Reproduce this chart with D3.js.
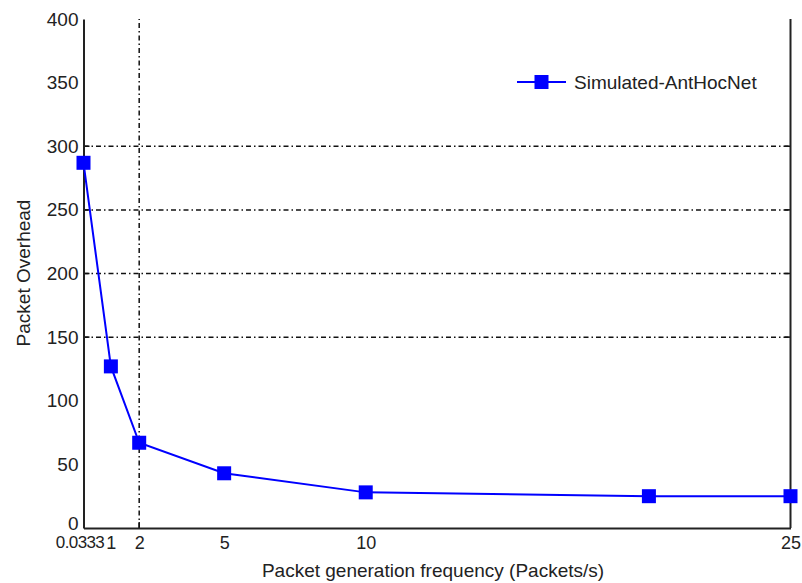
<!DOCTYPE html>
<html>
<head>
<meta charset="utf-8">
<script src="https://cdn.jsdelivr.net/npm/d3@7"></script>
<style>
body{margin:0;background:#fff;}
text{font-family:"Liberation Sans",Arial,sans-serif;}
</style>
</head>
<body>
<script>
const xValues = [0.0333, 1, 2, 5, 10, 20, 25];
const overhead = [287, 127, 67, 43, 28, 25, 25];
const xTicks = [0.0333, 1, 2, 5, 10, 25];
const xTickLabels = ["0.0333", "1", "2", "5", "10", "25"];
const yTicks = [0, 50, 100, 150, 200, 250, 300, 350, 400];
const yGrid = [150, 200, 250, 300];
const xGrid = [2];
const seriesName = "Simulated-AntHocNet";

const W = 802, H = 583;
const FS = 19;
const svg = d3.select("body").append("svg").attr("width", W).attr("height", H);
const x = d3.scaleLinear().domain([0.0333, 25]).range([83.5, 790.5]);
const y = d3.scaleLinear().domain([0, 400]).range([528, 19]);

const dash = "5,3,1.5,3";
const g = svg.append("g");
// grid
g.selectAll(".hg").data(yGrid).enter().append("line")
  .attr("x1", x(0.0333)).attr("x2", x(25))
  .attr("y1", d => y(d)).attr("y2", d => y(d))
  .attr("stroke", "#111").attr("stroke-width", 1.5).attr("stroke-dasharray", dash);
g.selectAll(".vg").data(xGrid).enter().append("line")
  .attr("x1", d => x(d)).attr("x2", d => x(d))
  .attr("y1", y(0)).attr("y2", y(400))
  .attr("stroke", "#111").attr("stroke-width", 1.5).attr("stroke-dasharray", dash);
// small ticks at grid ends
g.selectAll(".lt").data(yGrid).enter().append("line")
  .attr("x1", x(0.0333)).attr("x2", x(0.0333) + 6)
  .attr("y1", d => y(d)).attr("y2", d => y(d)).attr("stroke", "#111").attr("stroke-width", 1.5);
g.selectAll(".rt").data(yGrid).enter().append("line")
  .attr("x1", x(25) - 6).attr("x2", x(25))
  .attr("y1", d => y(d)).attr("y2", d => y(d)).attr("stroke", "#111").attr("stroke-width", 1.5);
g.selectAll(".bt").data(xGrid).enter().append("line")
  .attr("x1", d => x(d)).attr("x2", d => x(d))
  .attr("y1", y(0)).attr("y2", y(0) - 6).attr("stroke", "#111").attr("stroke-width", 1.5);

// axes
const yAxis = d3.axisLeft(y).tickValues(yTicks).tickSize(0).tickPadding(5);
const ya = svg.append("g").attr("transform", `translate(${x(0.0333)},0)`).call(yAxis);
ya.select(".domain").attr("stroke", "#222").attr("stroke-width", 2);
ya.selectAll("text").attr("font-size", FS).attr("fill", "#222");
ya.selectAll(".tick").filter(d => d === 0).select("text").attr("dy", "0.1em");

const xAxis = d3.axisBottom(x).tickValues(xTicks).tickSize(0).tickPadding(8)
  .tickFormat((d, i) => xTickLabels[i]);
const xa = svg.append("g").attr("transform", `translate(0,${y(0)})`).call(xAxis);
xa.select(".domain").attr("stroke", "#222").attr("stroke-width", 2);
xa.selectAll("text").attr("font-size", 18).attr("fill", "#222");
xa.selectAll(".tick").filter(d => d === 0.0333).select("text")
  .attr("font-size", 17).attr("letter-spacing", -0.6).attr("dx", -4);

// right border
svg.append("line").attr("x1", x(25)).attr("x2", x(25)).attr("y1", y(0)).attr("y2", y(400))
  .attr("stroke", "#222").attr("stroke-width", 2);

// line
const pts = xValues.map((v, i) => [v, overhead[i]]);
svg.append("path").datum(pts)
  .attr("d", d3.line().x(d => x(d[0])).y(d => y(d[1])))
  .attr("fill", "none").attr("stroke", "#0000ff").attr("stroke-width", 2);
svg.selectAll(".m").data(pts).enter().append("rect")
  .attr("x", d => x(d[0]) - 7).attr("y", d => y(d[1]) - 7)
  .attr("width", 14).attr("height", 14).attr("fill", "#0000ff");

// legend
const lg = svg.append("g").attr("transform", "translate(517,82)");
lg.append("line").attr("x1", 0).attr("x2", 49).attr("y1", 0).attr("y2", 0)
  .attr("stroke", "#0000ff").attr("stroke-width", 2);
lg.append("rect").attr("x", 24.5 - 7).attr("y", -7).attr("width", 14).attr("height", 14).attr("fill", "#0000ff");
lg.append("text").attr("x", 57).attr("y", 7).attr("font-size", FS).attr("fill", "#222").text(seriesName);

// axis titles
svg.append("text").attr("x", 433).attr("y", 577).attr("text-anchor", "middle")
  .attr("font-size", FS).attr("fill", "#222").text("Packet generation frequency (Packets/s)");
svg.append("text").attr("transform", "translate(30,273) rotate(-90)").attr("text-anchor", "middle")
  .attr("font-size", FS).attr("fill", "#222").text("Packet Overhead");
</script>
</body>
</html>
